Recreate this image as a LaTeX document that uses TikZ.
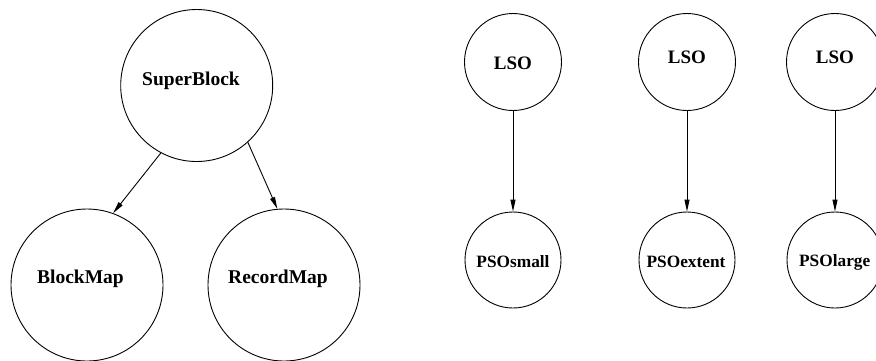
\documentclass[tikz,border=0pt]{standalone}
\usepackage{fontspec}
\setmainfont{Liberation Serif}
\usetikzlibrary{arrows.meta}
\begin{document}
\begin{tikzpicture}[x=1pt,y=-1pt,
  bignode/.style={circle,draw,line width=0.9pt,minimum size=152pt,inner sep=0pt,font=\fontsize{19.5}{22}\selectfont\bfseries},
  lsonode/.style={circle,draw,line width=0.9pt,minimum size=97pt,inner sep=0pt,font=\fontsize{19}{22}\selectfont\bfseries},
  psonode/.style={circle,draw,line width=0.9pt,minimum size=96pt,inner sep=0pt,font=\fontsize{17.3}{20}\selectfont\bfseries},
  link/.style={draw,line width=0.9pt,-{Triangle[length=12pt,width=5pt]}}]
\useasboundingbox (0,0) rectangle (876,360);
\node[bignode] (sb) at (196.7,85.5) {};
\node[font=\fontsize{19.5}{22}\selectfont\bfseries] (sbt) at (191,81) {SuperBlock};
\node[bignode] (bm) at (87,285) {};
\node[font=\fontsize{19.5}{22}\selectfont\bfseries] (bmt) at (80.5,279) {BlockMap};
\node[bignode] (rm) at (284,285) {};
\node[font=\fontsize{19.5}{22}\selectfont\bfseries] (rmt) at (278,279) {RecordMap};
\node[lsonode] (l1) at (513,62) {};
\node[font=\fontsize{19}{22}\selectfont\bfseries] (l1t) at (513,63) {LSO};
\node[lsonode] (l2) at (687,62) {};
\node[font=\fontsize{19}{22}\selectfont\bfseries] (l2t) at (687,57.5) {LSO};
\node[lsonode] (l3) at (835,62) {};
\node[font=\fontsize{19}{22}\selectfont\bfseries] (l3t) at (835,57.5) {LSO};
\node[psonode] (p1) at (513,260) {};
\node[font=\fontsize{17.3}{20}\selectfont\bfseries] (p1t) at (513,262) {PSOsmall};
\node[psonode] (p2) at (687,260) {};
\node[font=\fontsize{17.3}{20}\selectfont\bfseries] (p2t) at (686,262) {PSOextent};
\node[psonode] (p3) at (835,260) {};
\node[font=\fontsize{17.3}{20}\selectfont\bfseries] (p3t) at (834.7,262) {PSOlarge};
\draw[link] (sb.242) -- (bm.70);
\draw[link] (sb.-48) -- (rm.95.5);
\draw[link] (l1.south) -- (p1.north);
\draw[link] (l2.south) -- (p2.north);
\draw[link] (l3.south) -- (p3.north);
\end{tikzpicture}
\end{document}
